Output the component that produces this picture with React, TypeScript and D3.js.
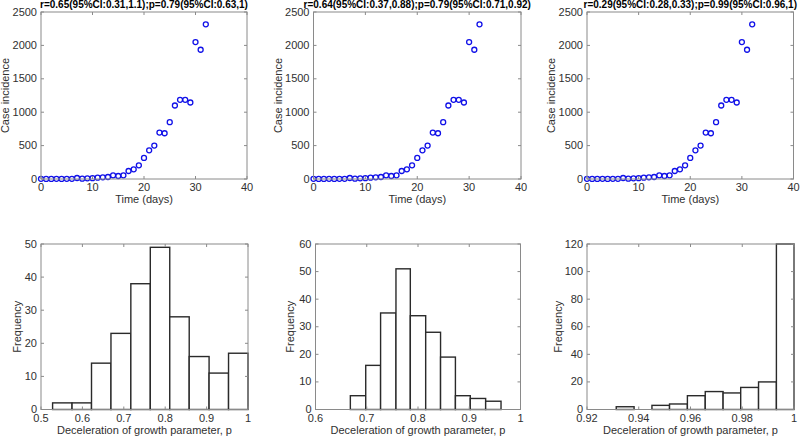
import React from "react";
import * as d3 from "d3";

const days = [0,1,2,3,4,5,6,7,8,9,10,11,12,13,14,15,16,17,18,19,20,21,22,23,24,25,26,27,28,29,30,31,32];
const incidence = [2,1,1,2,1,3,2,15,5,10,12,20,25,30,55,45,55,120,145,205,315,430,500,695,685,850,1100,1185,1185,1145,2050,1935,2315];

const titles = [
  "r=0.65(95%CI:0.31,1.1);p=0.79(95%CI:0.63,1)",
  "r=0.64(95%CI:0.37,0.88);p=0.79(95%CI:0.71,0.92)",
  "r=0.29(95%CI:0.28,0.33);p=0.99(95%CI:0.96,1)",
];

const binEdges1 = [0.528,0.575,0.622,0.669,0.717,0.764,0.811,0.858,0.906,0.953,1.0];
const counts1 = [2,2,14,23,38,49,28,16,11,17];
const binEdges2 = [0.668,0.698,0.727,0.757,0.785,0.815,0.844,0.873,0.902,0.932,0.962];
const counts2 = [5,16,35,51,34,28,19,5,4,3];
const binEdges3 = [0.9313,0.9382,0.9451,0.9519,0.9588,0.9657,0.9726,0.9794,0.9863,0.9932,1.0];
const counts3 = [2,0,3,4,10,13,12,16,20,120];

const timeTicks = [0,10,20,30,40];
const incTicks = [0,500,1000,1500,2000,2500];
const pTicks1 = [0.5,0.6,0.7,0.8,0.9,1];
const pTicks2 = [0.6,0.7,0.8,0.9,1];
const pTicks3 = [0.92,0.94,0.96,0.98,1];
const fTicks1 = [0,10,20,30,40,50];
const fTicks2 = [0,10,20,30,40,50,60];
const fTicks3 = [0,20,40,60,80,100,120];

const FONT = "'Liberation Sans', Arial, sans-serif";
const AXIS = "#8a8a8a";
const TXT = "#303030";

type FrameProps = {
  x: d3.ScaleLinear<number, number>;
  y: d3.ScaleLinear<number, number>;
  xTicks: number[];
  yTicks: number[];
  xLabel: string;
  yLabel: string;
  yLabelOffset: number;
  xTickY: number;
  xLabelY: number;
  fmtX?: (v: number) => string;
  children?: React.ReactNode;
};

function Frame({ x, y, xTicks, yTicks, xLabel, yLabel, yLabelOffset, xTickY, xLabelY, fmtX, children }: FrameProps) {
  const [x0, x1] = x.range();
  const [y0, y1] = y.range();
  const tl = 3;
  const f = fmtX || ((v: number) => String(v));
  return (
    <g>
      {children}
      <rect x={x0} y={y1} width={x1 - x0} height={y0 - y1} fill="none" stroke={AXIS} strokeWidth={1} />
      {xTicks.map((t) => (
        <g key={"x" + t}>
          <line x1={x(t)} x2={x(t)} y1={y0} y2={y0 - tl} stroke={AXIS} />
          <line x1={x(t)} x2={x(t)} y1={y1} y2={y1 + tl} stroke={AXIS} />
          <text x={x(t)} y={xTickY} textAnchor="middle" fontSize={11} fill={TXT} fontFamily={FONT}>{f(t)}</text>
        </g>
      ))}
      {yTicks.map((t) => (
        <g key={"y" + t}>
          <line x1={x0} x2={x0 + tl} y1={y(t)} y2={y(t)} stroke={AXIS} />
          <line x1={x1} x2={x1 - tl} y1={y(t)} y2={y(t)} stroke={AXIS} />
          <text x={x0 - 4} y={y(t) + 3.5} textAnchor="end" fontSize={11} fill={TXT} fontFamily={FONT}>{t}</text>
        </g>
      ))}
      <text x={(x0 + x1) / 2} y={xLabelY} textAnchor="middle" fontSize={11} fill={TXT} fontFamily={FONT}>{xLabel}</text>
      <text
        transform={`translate(${x0 - yLabelOffset},${(y0 + y1) / 2}) rotate(-90)`}
        textAnchor="middle"
        dominantBaseline="central"
        fontSize={11}
        fill={TXT}
        fontFamily={FONT}
      >{yLabel}</text>
    </g>
  );
}

function ScatterPanel({ left, right, title }: { left: number; right: number; title: string }) {
  const x = d3.scaleLinear().domain([0, 40]).range([left, right]);
  const y = d3.scaleLinear().domain([0, 2500]).range([179, 12]);
  return (
    <g>
      <Frame x={x} y={y} xTicks={timeTicks} yTicks={incTicks} xLabel="Time (days)" yLabel="Case incidence"
        yLabelOffset={36} xTickY={191} xLabelY={203}>
        {days.map((d, i) => (
          <circle key={i} cx={x(d)} cy={y(incidence[i])} r={2.5} fill="none" stroke="#1010e8" strokeWidth={1.3} />
        ))}
      </Frame>
      <text x={(left + right) / 2} y={8} textAnchor="middle" fontSize={10} fontWeight="bold" fill="#000" fontFamily={FONT}>{title}</text>
    </g>
  );
}

function HistPanel({ left, right, domain, edges, counts, xTicks, yTicks, yLabelOffset, fmt }: {
  left: number; right: number; domain: [number, number]; edges: number[]; counts: number[];
  xTicks: number[]; yTicks: number[]; yLabelOffset: number; fmt: (v: number) => string;
}) {
  const x = d3.scaleLinear().domain(domain).range([left, right]);
  const y = d3.scaleLinear().domain([0, yTicks[yTicks.length - 1]]).range([409.5, 244]);
  return (
    <Frame x={x} y={y} xTicks={xTicks} yTicks={yTicks} xLabel="Deceleration of growth parameter, p" yLabel="Frequency"
      yLabelOffset={yLabelOffset} xTickY={422} xLabelY={434} fmtX={fmt}>
      {counts.map((c, i) => (
        <rect key={i} x={x(edges[i])} y={y(c)} width={x(edges[i + 1]) - x(edges[i])} height={y(0) - y(c)}
          fill="#fff" stroke="#2a2a2a" strokeWidth={1.4} />
      ))}
    </Frame>
  );
}

const fmtPlain = (v: number) => (v === 1 ? "1" : d3.format(".1f")(v));
const fmt2 = (v: number) => (v === 1 ? "1" : d3.format(".2f")(v));

export default function App() {
  return (
    <svg width={800} height={436} style={{ position: "absolute", left: 0, top: 0, background: "#fff" }}>
      <rect width={800} height={436} fill="#fff" />
      <ScatterPanel left={41} right={247} title={titles[0]} />
      <ScatterPanel left={313.5} right={521} title={titles[1]} />
      <ScatterPanel left={587} right={793.5} title={titles[2]} />
      <HistPanel left={41} right={248} domain={[0.5, 1]} edges={binEdges1} counts={counts1} xTicks={pTicks1} yTicks={fTicks1} yLabelOffset={24} fmt={fmtPlain} />
      <HistPanel left={315.5} right={520.5} domain={[0.6, 1]} edges={binEdges2} counts={counts2} xTicks={pTicks2} yTicks={fTicks2} yLabelOffset={26} fmt={fmtPlain} />
      <HistPanel left={587} right={794} domain={[0.92, 1]} edges={binEdges3} counts={counts3} xTicks={pTicks3} yTicks={fTicks3} yLabelOffset={29} fmt={fmt2} />
    </svg>
  );
}
